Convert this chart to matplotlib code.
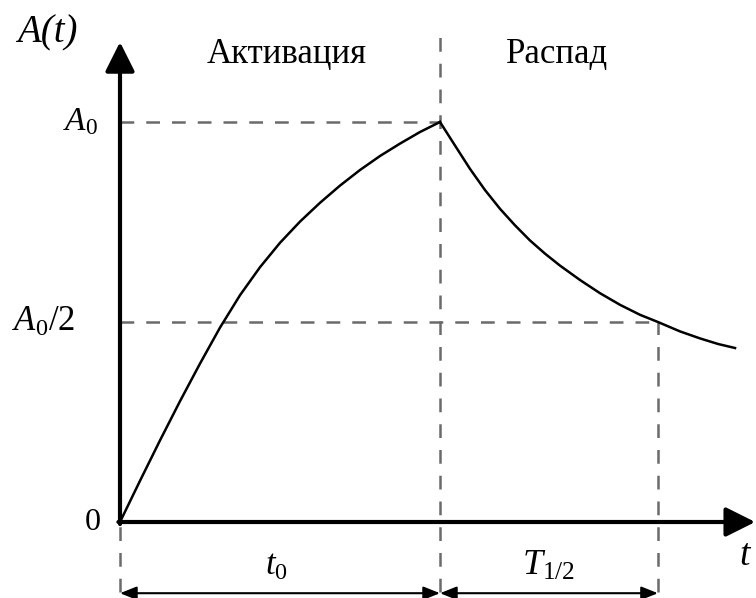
import matplotlib.pyplot as plt

plt.rcParams['font.family'] = ['Liberation Serif', 'DejaVu Serif']
plt.rcParams['mathtext.fontset'] = 'custom'
plt.rcParams['mathtext.rm'] = 'Liberation Serif'
plt.rcParams['mathtext.it'] = 'Liberation Serif:italic'

# ---- data (t in units of t0, A in units of A0) ----
t0 = 1.0
t_half_end = 1.681
A0 = 1.0

rise_t = [0.0, 0.0625, 0.125, 0.1875, 0.25, 0.3125, 0.375, 0.4375, 0.5,
          0.5625, 0.625, 0.6875, 0.75, 0.8125, 0.875, 0.9375, 1.0]
rise_A = [0.0, 0.103, 0.204, 0.302, 0.396, 0.486, 0.567, 0.637, 0.698,
          0.751, 0.798, 0.841, 0.880, 0.915, 0.946, 0.975, 1.0]

decay_t = [1.0, 1.047, 1.094, 1.141, 1.1875, 1.234, 1.281, 1.328, 1.375,
           1.4375, 1.5, 1.5625, 1.625, 1.681, 1.75, 1.8125, 1.869, 1.922]
decay_A = [1.0, 0.941, 0.8825, 0.8295, 0.783, 0.742, 0.704, 0.671, 0.641,
           0.605, 0.572, 0.543, 0.518, 0.5, 0.4765, 0.459, 0.445, 0.435]

y_labels = ["$A_{\\mathrm{0}}$", "$A_{\\mathrm{0}}/2$", "0"]
phase_labels = ["Активация", "Распад"]

# ---- figure ----
fig = plt.figure(figsize=(7.56, 5.98), dpi=100)
ax = fig.add_axes([0, 0, 1, 1])
ax.set_xlim(-0.375, 1.9875)
ax.set_ylim(-0.19, 1.305)
ax.axis('off')

dash = dict(color='#6a6a6a', lw=1.8, linestyle=(0, (5.5, 4.8)))

# guide lines
ax.plot([0, t0], [A0, A0], **dash)
ax.plot([0, t_half_end], [A0 / 2, A0 / 2], **dash)
ax.plot([t0, t0], [-0.175, 1.225], **dash)
ax.plot([t_half_end, t_half_end], [-0.175, A0 / 2], **dash)
ax.plot([0, 0], [-0.175, 0], **dash)

# curve
ax.plot(rise_t, rise_A, color='black', lw=1.8, solid_joinstyle='round')
ax.plot(decay_t, decay_A, color='black', lw=1.8, solid_joinstyle='round')

# axes with arrows
axis_arrow = dict(arrowstyle='-|>,head_length=0.4,head_width=0.2', lw=3,
                  color='black', mutation_scale=45, shrinkA=0, shrinkB=0)
ax.annotate('', xy=(0, 1.2), xytext=(0, -0.005), arrowprops=axis_arrow)
ax.annotate('', xy=(1.985, 0), xytext=(-0.005, 0), arrowprops=axis_arrow)

# dimension arrows
dim_arrow = dict(arrowstyle='<|-|>,head_length=0.5,head_width=0.2', lw=1.5,
                 color='black', mutation_scale=20, shrinkA=0, shrinkB=0)
ax.annotate('', xy=(0, -0.178), xytext=(t0, -0.178), arrowprops=dim_arrow)
ax.annotate('', xy=(t0, -0.178), xytext=(t_half_end, -0.178), arrowprops=dim_arrow)

# labels
ax.text(-0.228, 1.222, "A(t)", fontsize=28, style='italic', ha='center', va='center')
ax.text(-0.07, A0, y_labels[0], fontsize=24, ha='right', va='center')
ax.text(-0.14, A0 / 2, y_labels[1], fontsize=25, ha='right', va='center')
ax.text(-0.06, 0, y_labels[2], fontsize=23, ha='right', va='center')
ax.text(0.522, 1.17, phase_labels[0], fontsize=25, ha='center', va='center')
ax.text(1.366, 1.17, phase_labels[1], fontsize=25, ha='center', va='center')
ax.text(0.49, -0.11, "$t_{\\mathrm{0}}$", fontsize=25, ha='center', va='center')
ax.text(1.34, -0.11, "$T_{\\mathrm{1/2}}$", fontsize=26, ha='center', va='center')
ax.text(1.955, -0.085, "$t$", fontsize=27, ha='center', va='center')

fig.savefig("out.png", dpi=100)
